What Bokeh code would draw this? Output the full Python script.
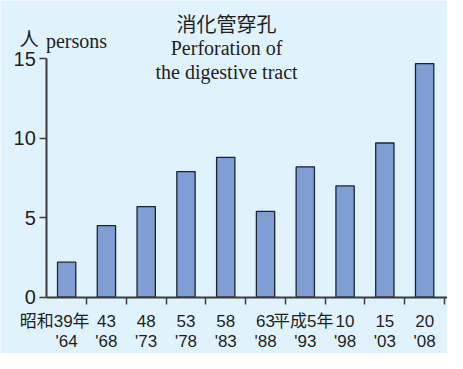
from bokeh.plotting import figure
from bokeh.models import FixedTicker, Label, Range1d, LinearAxis
from bokeh.embed import file_html
from bokeh.resources import INLINE

# data
era_labels = ["昭和39年", "43", "48", "53", "58", "63", "平成5年", "10", "15", "20"]
year_labels = ["'64", "'68", "'73", "'78", "'83", "'88", "'93", "'98", "'03", "'08"]
persons = [2.2, 4.5, 5.7, 7.9, 8.8, 5.4, 8.2, 7.0, 9.7, 14.7]
y_ticks = [0, 5, 10, 15]

BG = "#e0f3fc"
BAR = "#7f9fd4"
EDGE = "#1b2235"
AX = "#3a3a3a"
TXT = "#1e1e1e"

xs = list(range(len(persons)))
X0, X1 = -1.663, 9.575
Y0, Y1 = -3.554, 18.675
YAX = -0.498

p = figure(width=447, height=353, output_backend="svg", toolbar_location=None,
           x_range=Range1d(X0, X1), y_range=Range1d(Y0, Y1),
           x_axis_type=None, y_axis_type=None,
           min_border=0)
p.background_fill_color = BG
p.border_fill_color = BG
p.outline_line_color = None
p.grid.visible = False

p.vbar(x=xs, top=persons, width=0.46, fill_color=BAR, line_color=EDGE, line_width=1.3)

# y axis placed inside the frame
ya = LinearAxis(fixed_location=YAX, bounds=(0, 15))
ya.ticker = FixedTicker(ticks=y_ticks)
ya.axis_line_color = AX
ya.axis_line_width = 2
ya.major_tick_line_color = AX
ya.major_tick_line_width = 1.5
ya.major_tick_out = 7
ya.major_tick_in = 0
ya.minor_tick_line_color = None
ya.major_label_standoff = 4
ya.major_label_text_font = "Liberation Sans"
ya.major_label_text_font_size = "20px"
ya.major_label_text_color = TXT
p.add_layout(ya, "left")

# x axis: ticks at category boundaries, labels drawn separately
xa = LinearAxis(fixed_location=0, bounds=(YAX, X1))
xa.ticker = FixedTicker(ticks=[i + 0.5 for i in xs])
xa.axis_line_color = AX
xa.axis_line_width = 2
xa.major_tick_line_color = AX
xa.major_tick_line_width = 1.5
xa.major_tick_out = 7
xa.major_tick_in = 0
xa.minor_tick_line_color = None
xa.major_label_text_font_size = "0px"
xa.major_label_text_alpha = 0
p.add_layout(xa, "below")

num_font = "'Liberation Sans', 'Noto Sans CJK JP', sans-serif"
offsets = {0: -12, 6: -2}
for i, (a, b) in enumerate(zip(era_labels, year_labels)):
    p.add_layout(Label(x=i, y=-1.536, text=a, x_offset=offsets.get(i, 0), text_align="center",
                       text_baseline="middle", text_font=num_font,
                       text_font_size="17px", text_color=TXT))
    p.add_layout(Label(x=i, y=-2.80, text=b, text_align="center",
                       text_baseline="middle", text_font=num_font,
                       text_font_size="17px", text_color=TXT))

# titles
TX = 4.02
p.add_layout(Label(x=TX, y=17.23, text="消化管穿孔", text_align="center",
                   text_baseline="middle", text_font="Noto Sans CJK JP",
                   text_font_size="20px", text_color=TXT))
p.add_layout(Label(x=TX, y=15.70, text="Perforation of", text_align="center",
                   text_baseline="alphabetic", text_font="Liberation Serif",
                   text_font_size="20px", text_color=TXT))
p.add_layout(Label(x=TX, y=14.19, text="the digestive tract", text_align="center",
                   text_baseline="alphabetic", text_font="Liberation Serif",
                   text_font_size="20px", text_color=TXT))
p.add_layout(Label(x=-1.177, y=16.32, text="人", text_align="left",
                   text_baseline="alphabetic", text_font="Noto Sans CJK JP",
                   text_font_size="19px", text_color=TXT))
p.add_layout(Label(x=-0.522, y=16.13, text="persons", text_align="left",
                   text_baseline="alphabetic", text_font="Liberation Serif",
                   text_font_size="20px", text_color=TXT))

open("out.html", "w").write(file_html(p, INLINE))
